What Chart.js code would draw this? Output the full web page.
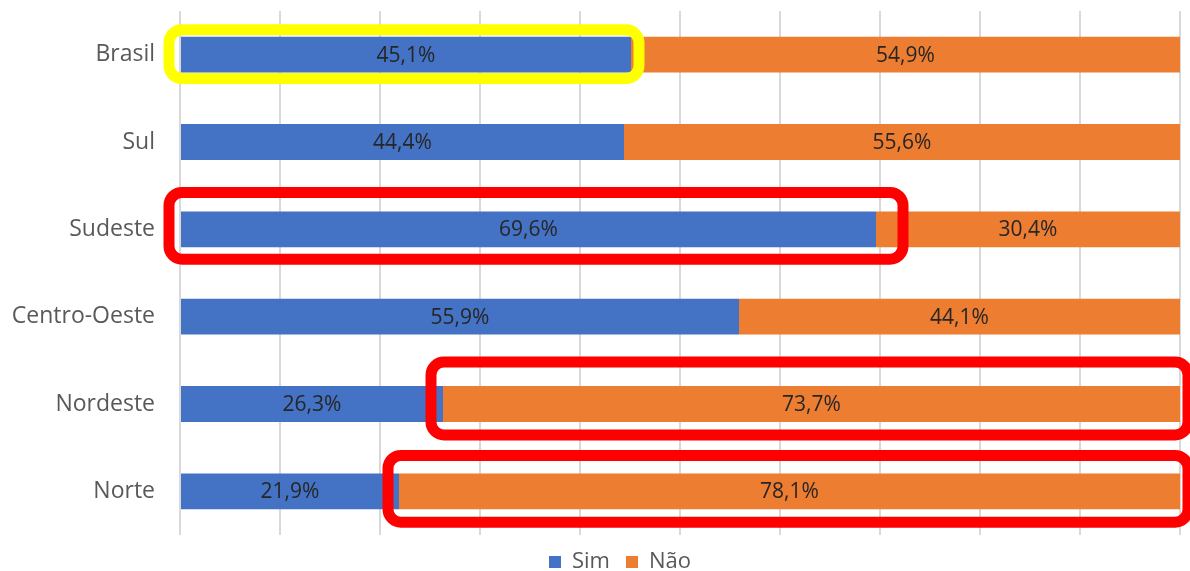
<!DOCTYPE html>
<html>
<head>
<meta charset="utf-8">
<script src="https://cdn.jsdelivr.net/npm/chart.js@4/dist/chart.umd.min.js"></script>
<style>
  html, body { margin: 0; padding: 0; background: #fff; }
  #wrap { width: 1190px; height: 571px; }
</style>
</head>
<body>
<div id="wrap"><canvas id="chart" width="1190" height="571"></canvas></div>
<script>
const regions = ['Brasil', 'Sul', 'Sudeste', 'Centro-Oeste', 'Nordeste', 'Norte'];
const sim = [45.1, 44.4, 69.6, 55.9, 26.3, 21.9];
const nao = [54.9, 55.6, 30.4, 44.1, 73.7, 78.1];

// highlight boxes drawn round a bar segment: dataset, category, colour, padding [left, top, right, bottom]
const highlights = [
    { ds: 0, idx: 0, color: '#ffff00', pad: [12, 7, 8, 6] },
    { ds: 0, idx: 2, color: '#ff0000', pad: [12, 19, 27, 12] },
    { ds: 1, idx: 4, color: '#ff0000', pad: [12, 24, 8, 13] },
    { ds: 1, idx: 5, color: '#ff0000', pad: [11, 18, 8, 13] }
];

const FONT = '"Open Sans", sans-serif';

const valueLabels = {
    id: 'valueLabels',
    afterDatasetsDraw(chart) {
        const ctx = chart.ctx;
        ctx.save();
        ctx.font = '21px ' + FONT;
        ctx.fillStyle = '#262626';
        ctx.textAlign = 'center';
        ctx.textBaseline = 'middle';
        chart.data.datasets.forEach((ds, i) => {
            chart.getDatasetMeta(i).data.forEach((bar, j) => {
                const cx = (bar.x + bar.base) / 2;
                ctx.fillText(ds.data[j].toFixed(1).replace('.', ',') + '%', cx, bar.y + 1);
            });
        });
        ctx.restore();
    }
};

const highlightBoxes = {
    id: 'highlightBoxes',
    afterDraw(chart) {
        const ctx = chart.ctx;
        ctx.save();
        ctx.lineWidth = 11;
        highlights.forEach(h => {
            const bar = chart.getDatasetMeta(h.ds).data[h.idx];
            const left = Math.min(bar.x, bar.base) - h.pad[0];
            const right = Math.max(bar.x, bar.base) + h.pad[2];
            const top = bar.y - bar.height / 2 - h.pad[1];
            const bottom = bar.y + bar.height / 2 + h.pad[3];
            ctx.strokeStyle = h.color;
            ctx.beginPath();
            ctx.roundRect(left, top, right - left, bottom - top, 13);
            ctx.stroke();
        });
        ctx.restore();
    }
};

// the legend sits a bit right of the canvas centre in the original
const legendShift = {
    id: 'legendShift',
    afterLayout(chart) {
        chart.legend.left += 25;
        chart.legend.right += 25;
    }
};

new Chart(document.getElementById('chart'), {
    type: 'bar',
    data: {
        labels: regions,
        datasets: [
            { label: 'Sim', data: sim, backgroundColor: '#4472c4' },
            { label: 'Não', data: nao, backgroundColor: '#ed7d31' }
        ]
    },
    options: {
        indexAxis: 'y',
        responsive: false,
        animation: false,
        layout: { padding: { left: 10, right: 10, top: 11, bottom: -12 } },
        datasets: {
            bar: { categoryPercentage: 1, barPercentage: 0.41, borderWidth: 0 }
        },
        scales: {
            x: {
                stacked: true,
                min: 0,
                max: 100,
                ticks: { display: false, stepSize: 10 },
                grid: { color: '#d9d9d9', lineWidth: 2, drawTicks: false },
                border: { display: false },
                afterFit(scale) { scale.height = 0; }
            },
            y: {
                stacked: true,
                grid: { display: false, drawTicks: false },
                border: { display: false },
                ticks: { color: '#595959', font: { family: FONT, size: 23 }, padding: 25 },
                afterFit(scale) {
                    scale.width = 170;
                    scale.paddingTop = 0;
                    scale.paddingBottom = 0;
                }
            }
        },
        plugins: {
            legend: {
                position: 'bottom',
                labels: {
                    color: '#595959',
                    font: { family: FONT, size: 22 },
                    boxWidth: 12,
                    boxHeight: 12,
                    padding: 16
                }
            },
            tooltip: { enabled: false }
        }
    },
    plugins: [valueLabels, highlightBoxes, legendShift]
});
</script>
</body>
</html>
